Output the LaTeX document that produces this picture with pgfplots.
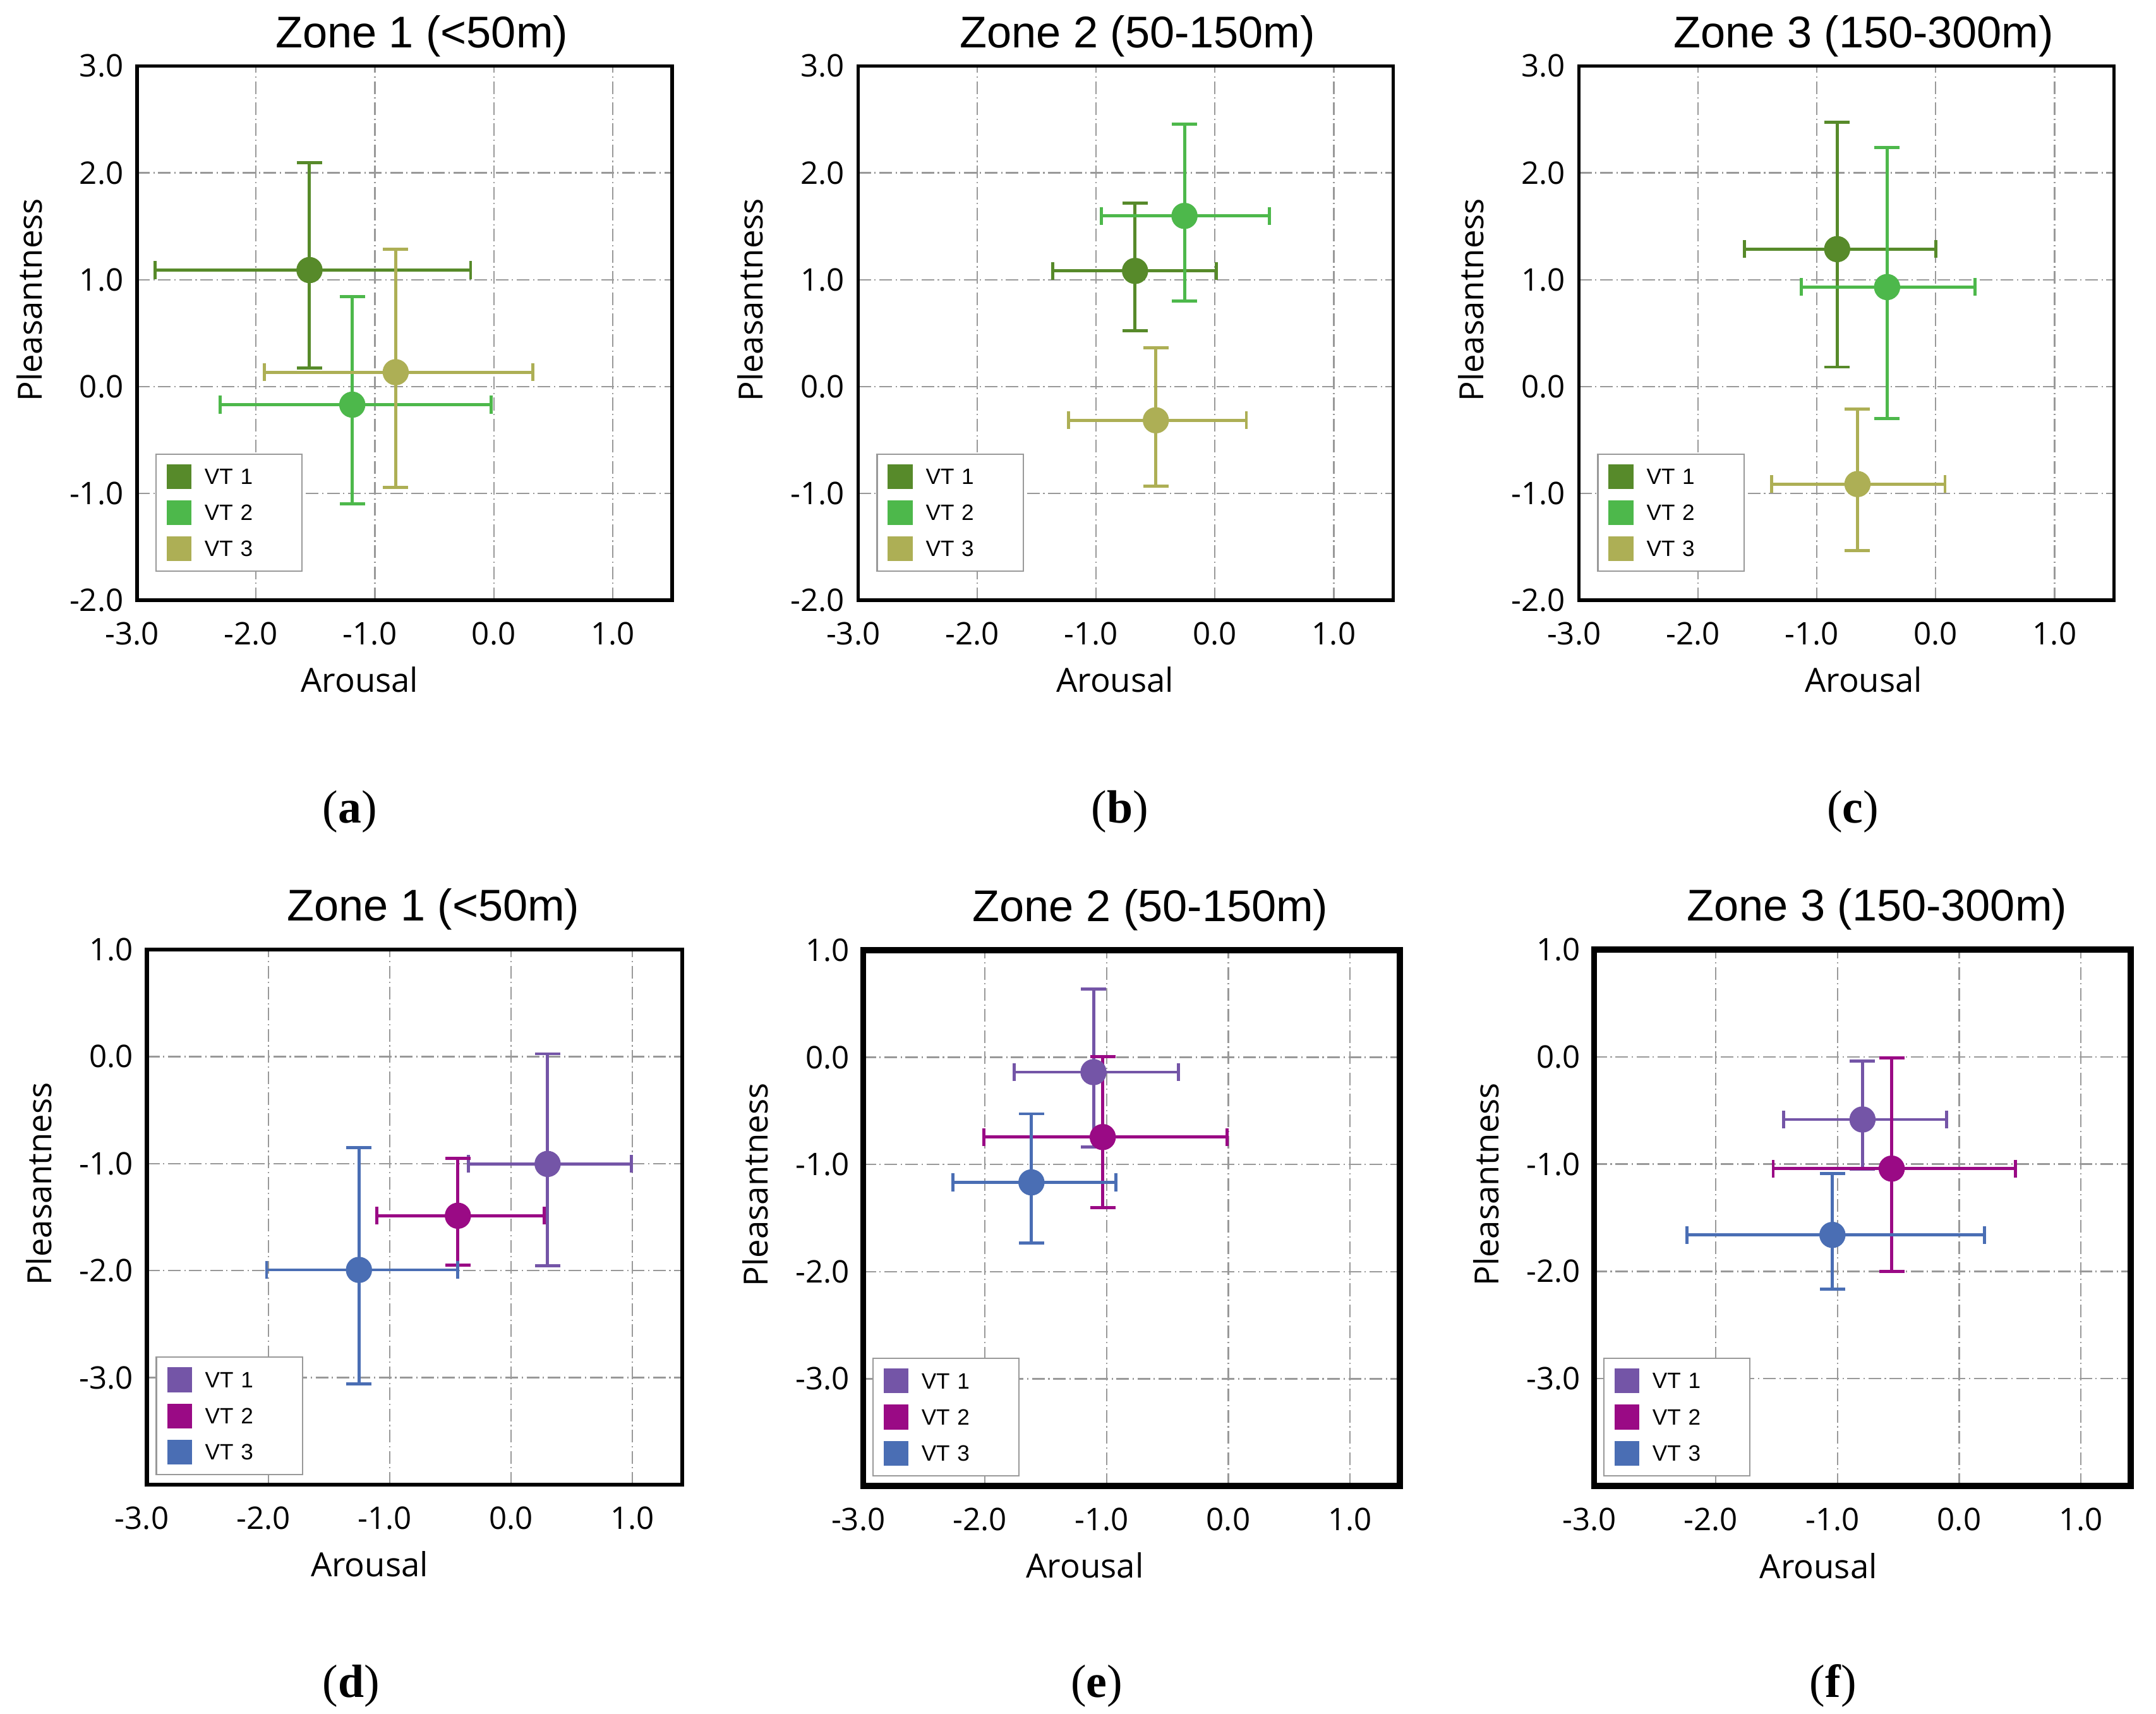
\documentclass[border=0pt]{standalone}
\usepackage{fontspec}
\setmainfont{Open Sans}
\newfontfamily\titlefont{Liberation Sans}
\newfontfamily\legfont{Liberation Sans}
\newfontfamily\capfont{Liberation Serif}
\usepackage{pgfplots}
\usepackage{pgfplotstable}
\pgfplotsset{compat=1.18}

\definecolor{gA}{HTML}{578A2A}
\definecolor{gB}{HTML}{4DB84B}
\definecolor{gC}{HTML}{ADAF55}
\definecolor{pA}{HTML}{7455A7}
\definecolor{pB}{HTML}{9A0A85}
\definecolor{pC}{HTML}{4A6EB4}

% columns: x y xm xp ym yp  (centre, minus/plus errors)
\pgfplotstableread{
x y xm xp ym yp
-1.55 1.09 1.30 1.355 0.917 1.005
}\taA
\pgfplotstableread{
x y xm xp ym yp
-1.19 -0.17 1.11 1.167 0.93 1.01
}\taB
\pgfplotstableread{
x y xm xp ym yp
-0.825 0.134 1.105 1.152 1.078 1.152
}\taC
\pgfplotstableread{
x y xm xp ym yp
-0.672 1.082 0.691 0.684 0.558 0.637
}\tbA
\pgfplotstableread{
x y xm xp ym yp
-0.256 1.597 0.699 0.714 0.797 0.858
}\tbB
\pgfplotstableread{
x y xm xp ym yp
-0.497 -0.316 0.734 0.761 0.615 0.680
}\tbC
\pgfplotstableread{
x y xm xp ym yp
-0.829 1.286 0.778 0.829 1.104 1.19
}\tcA
\pgfplotstableread{
x y xm xp ym yp
-0.409 0.931 0.723 0.740 1.230 1.307
}\tcB
\pgfplotstableread{
x y xm xp ym yp
-0.658 -0.913 0.723 0.736 0.624 0.701
}\tcC
\pgfplotstableread{
x y xm xp ym yp
0.301 -1.003 0.651 0.689 0.951 1.029
}\tdA
\pgfplotstableread{
x y xm xp ym yp
-0.438 -1.487 0.666 0.712 0.459 0.536
}\tdB
\pgfplotstableread{
x y xm xp ym yp
-1.253 -1.993 0.761 0.815 1.068 1.141
}\tdC
\pgfplotstableread{
x y xm xp ym yp
-1.108 -0.138 0.651 0.697 0.696 0.774
}\teA
\pgfplotstableread{
x y xm xp ym yp
-1.032 -0.744 0.978 1.021 0.657 0.748
}\teB
\pgfplotstableread{
x y xm xp ym yp
-1.618 -1.167 0.643 0.693 0.567 0.640
}\teC
\pgfplotstableread{
x y xm xp ym yp
-0.795 -0.584 0.650 0.692 0.462 0.545
}\tfA
\pgfplotstableread{
x y xm xp ym yp
-0.555 -1.042 0.974 1.019 0.960 1.033
}\tfB
\pgfplotstableread{
x y xm xp ym yp
-1.042 -1.660 1.198 1.251 0.506 0.571
}\tfC

\newcommand\series[2]{%
\addplot[forget plot, only marks, mark=none, color=#2,
  error bars/.cd, x dir=both, x explicit, error mark=|,
  error bar style={line width=1.4pt, solid, #2},
  error mark options={mark size=4pt, line width=1.4pt, #2}]
  table[x=x, y=y, x error plus=xp, x error minus=xm]{#1};
\addplot[forget plot, only marks, mark=none, color=#2,
  error bars/.cd, y dir=both, y explicit, error mark=|,
  error bar style={line width=1.4pt, solid, #2},
  error mark options={mark size=5.7pt, line width=1.4pt, #2}]
  table[x=x, y=y, y error plus=yp, y error minus=ym]{#1};
\addplot[forget plot, only marks, mark=*, mark size=5.7pt, color=#2,
  mark options={fill=#2, draw=none}] table[x=x, y=y]{#1};
}
\newcommand\legsq[2]{%
\addlegendimage{legend image code/.code={\fill[#1] (0cm,-0.185cm) rectangle (0.37cm,0.185cm);}}
\addlegendentry{#2}
}

\pgfplotsset{
  base/.style={
    scale only axis, anchor=south west, clip=false,
    xmin=-3, xmax=1.5,
    xtick={-3,-2,-1,0,1},
    xticklabels={\llap{-}3.0,\llap{-}2.0,\llap{-}1.0,0.0,1.0},
    grid=major,
    grid style={draw=black!40, line width=0.65pt, dash pattern=on 5.7pt off 1.6pt on 0.6pt off 1.6pt},
    major tick length=0pt,
    tick style={draw=none},
    ticklabel style={font=\fontsize{14}{16}\selectfont},
    xticklabel style={anchor=base, inner sep=0pt, yshift=-0.70cm},
    yticklabel style={anchor=east, inner sep=0pt, xshift=-0.21cm},
    xlabel={Arousal}, ylabel={Pleasantness},
    label style={font=\fontsize{15}{18}\selectfont},
    ylabel style={at={(axis description cs:-0.178,0.562)}, anchor=base},
    legend cell align=left,
    legend style={anchor=south west, draw=black!40, line width=0.6pt,
      inner xsep=0.17cm, inner ysep=0.16cm, row sep=0.18cm, column sep=0.21cm,
      font=\legfont\fontsize{10}{12}\selectfont,
      nodes={inner sep=0pt, text width=1.37cm, text depth=0pt}},
  },
  toprow/.style={base, width=8.47cm, height=8.455cm,
    ymin=-2, ymax=3, ytick={-2,-1,0,1,2,3},
    yticklabels={-2.0,-1.0,0.0,1.0,2.0,3.0},
    axis line style={line width=1.6pt},
    legend style={at={(axis description cs:0.034,0.053)}}},
  botrow/.style={base, width=8.48cm, height=8.48cm,
    ymin=-4, ymax=1, xmax=1.41, ytick={-3,-2,-1,0,1},
    yticklabels={-3.0,-2.0,-1.0,0.0,1.0},
    legend style={at={(axis description cs:0.0165,0.018)}}},
}
\newcommand\ttl[2]{\node[font=\titlefont\fontsize{20}{24}\selectfont, anchor=base] at (axis description cs:#1) {#2};}

\begin{document}
\begin{tikzpicture}
\path[use as bounding box] (0,0) rectangle (34.13,27.12);

% (a)
\begin{axis}[toprow, at={(2.17cm,17.62cm)},
  xlabel style={at={(axis description cs:0.416,-0.172)}, anchor=base}]
\series{\taA}{gA}\series{\taB}{gB}\series{\taC}{gC}
\legsq{gA}{VT 1}\legsq{gB}{VT 2}\legsq{gC}{VT 3}
\ttl{0.532,1.0343}{Zone 1 (<50m)}
\end{axis}
% (b)
\begin{axis}[toprow, at={(13.586cm,17.62cm)},
  xlabel style={at={(axis description cs:0.48,-0.172)}, anchor=base}]
\series{\tbA}{gA}\series{\tbB}{gB}\series{\tbC}{gC}
\legsq{gA}{VT 1}\legsq{gB}{VT 2}\legsq{gC}{VT 3}
\ttl{0.522,1.0343}{Zone 2 (50-150m)}
\end{axis}
% (c)
\begin{axis}[toprow, at={(24.996cm,17.62cm)},
  xlabel style={at={(axis description cs:0.532,-0.172)}, anchor=base}]
\series{\tcA}{gA}\series{\tcB}{gB}\series{\tcC}{gC}
\legsq{gA}{VT 1}\legsq{gB}{VT 2}\legsq{gC}{VT 3}
\ttl{0.532,1.0343}{Zone 3 (150-300m)}
\end{axis}
% (d)
\begin{axis}[botrow, at={(2.325cm,3.62cm)}, width=8.475cm, height=8.47cm,
  axis line style={line width=1.8pt},
  xlabel style={at={(axis description cs:0.416,-0.172)}, anchor=base}]
\series{\tdA}{pA}\series{\tdB}{pB}\series{\tdC}{pC}
\legsq{pA}{VT 1}\legsq{pB}{VT 2}\legsq{pC}{VT 3}
\ttl{0.535,1.0542}{Zone 1 (<50m)}
\end{axis}
% (e)
\begin{axis}[botrow, at={(13.666cm,3.60cm)}, width=8.494cm, height=8.48cm,
  axis line style={line width=2.6pt},
  xlabel style={at={(axis description cs:0.413,-0.172)}, anchor=base}]
\series{\teA}{pA}\series{\teB}{pB}\series{\teC}{pC}
\legsq{pA}{VT 1}\legsq{pB}{VT 2}\legsq{pC}{VT 3}
\ttl{0.535,1.0542}{Zone 2 (50-150m)}
\end{axis}
% (f)
\begin{axis}[botrow, at={(25.237cm,3.60cm)}, width=8.493cm, height=8.49cm,
  axis line style={line width=2.6pt},
  xlabel style={at={(axis description cs:0.418,-0.172)}, anchor=base}]
\series{\tfA}{pA}\series{\tfB}{pB}\series{\tfC}{pC}
\legsq{pA}{VT 1}\legsq{pB}{VT 2}\legsq{pC}{VT 3}
\ttl{0.527,1.0542}{Zone 3 (150-300m)}
\end{axis}

\begin{scope}[every node/.style={font=\capfont\fontsize{21}{24}\selectfont, anchor=base}]
\node at (5.54,14.10) {(\textbf{a})};
\node at (17.73,14.10) {(\textbf{b})};
\node at (29.33,14.10) {(\textbf{c})};
\node at (5.56,0.26) {(\textbf{d})};
\node at (17.36,0.26) {(\textbf{e})};
\node at (29.02,0.26) {(\textbf{f})};
\end{scope}
\end{tikzpicture}
\end{document}
